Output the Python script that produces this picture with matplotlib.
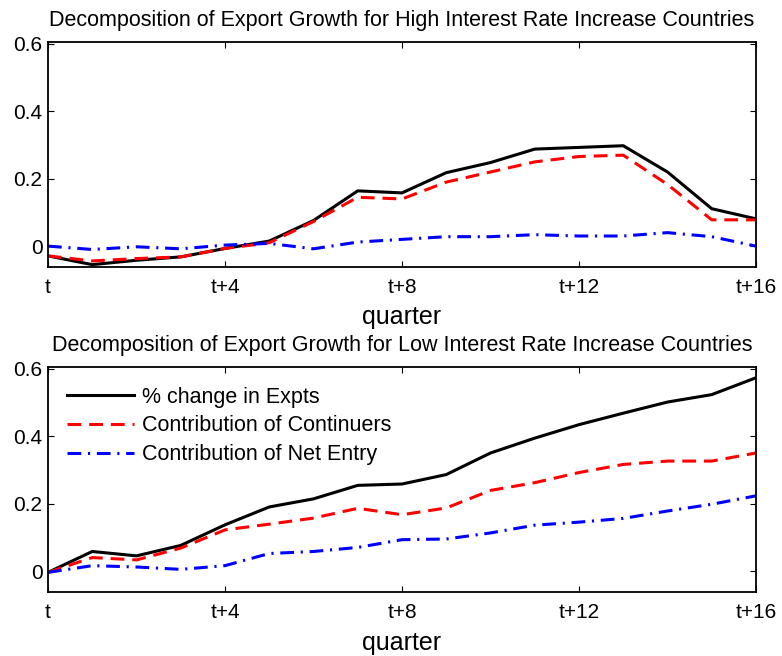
import matplotlib
matplotlib.use("Agg")
import matplotlib.pyplot as plt
import numpy as np

plt.rcParams['font.family'] = ['Liberation Sans', 'DejaVu Sans']

quarters = np.arange(17)
xtick_pos = [0, 4, 8, 12, 16]
xtick_labels = ["t", "t+4", "t+8", "t+12", "t+16"]
ytick_pos = [0, 0.2, 0.4, 0.6]
ytick_labels = ["0", "0.2", "0.4", "0.6"]

title_high = "Decomposition of Export Growth for High Interest Rate Increase Countries"
title_low = "Decomposition of Export Growth for Low Interest Rate Increase Countries"
legend_labels = ["% change in Expts", "Contribution of Continuers", "Contribution of Net Entry"]

high_total = [-0.029, -0.055, -0.042, -0.032, -0.007, 0.015, 0.076, 0.164, 0.158,
              0.218, 0.248, 0.288, 0.293, 0.298, 0.220, 0.111, 0.081]
high_cont = [-0.029, -0.044, -0.037, -0.032, -0.007, 0.010, 0.073, 0.145, 0.140,
             0.190, 0.220, 0.250, 0.266, 0.270, 0.183, 0.078, 0.078]
high_entry = [0.000, -0.010, -0.002, -0.008, 0.003, 0.008, -0.008, 0.012, 0.020,
              0.028, 0.028, 0.034, 0.030, 0.030, 0.040, 0.028, 0.000]

low_total = [-0.003, 0.059, 0.046, 0.077, 0.138, 0.191, 0.215, 0.255, 0.259,
             0.287, 0.351, 0.395, 0.435, 0.469, 0.502, 0.524, 0.574]
low_cont = [-0.003, 0.041, 0.034, 0.069, 0.123, 0.140, 0.158, 0.187, 0.168,
            0.188, 0.240, 0.263, 0.293, 0.317, 0.327, 0.327, 0.351]
low_entry = [-0.003, 0.017, 0.013, 0.006, 0.017, 0.053, 0.059, 0.071, 0.094,
             0.096, 0.114, 0.137, 0.146, 0.157, 0.179, 0.199, 0.224]

fig = plt.figure(figsize=(7.82, 6.56), dpi=100)
ax1 = fig.add_axes([48/782, 1-267/656, 708/782, 224.7/656])
ax2 = fig.add_axes([48/782, 1-592.3/656, 708/782, 225/656])

dash_red = (0, (4.5, 2.6))
dash_blue = (0, (4.5, 2.2, 0.7, 2.2))

for ax, tot, cont, ent, title in [(ax1, high_total, high_cont, high_entry, title_high),
                                   (ax2, low_total, low_cont, low_entry, title_low)]:
    ax.plot(quarters, tot, color='black', lw=2.2, label=legend_labels[0])
    ax.plot(quarters, cont, color='red', lw=2.2, linestyle=dash_red, label=legend_labels[1])
    ax.plot(quarters, ent, color='blue', lw=2.2, linestyle=dash_blue, label=legend_labels[2])
    ax.set_xlim(0, 16)
    ax.set_ylim(-0.062, 0.605)
    ax.set_xticks(xtick_pos)
    ax.set_xticklabels(xtick_labels)
    ax.set_yticks(ytick_pos)
    ax.set_yticklabels(ytick_labels)
    ax.tick_params(direction='in', length=4, width=0.8, top=True, right=True,
                   labelsize=15)
    ax.tick_params(axis='x', pad=8)
    ax.tick_params(axis='y', pad=4)
    for s in ax.spines.values():
        s.set_linewidth(1.3)
    ax.set_xlabel("quarter", fontsize=18, labelpad=6)
    ax.set_title(title, fontsize=15.5, pad=12)

leg = ax2.legend(loc='upper left', frameon=False, fontsize=15.5, handlelength=3.1,
                 handletextpad=0.35, labelspacing=0.36, borderaxespad=0.5)

fig.savefig("out.png", dpi=100)
